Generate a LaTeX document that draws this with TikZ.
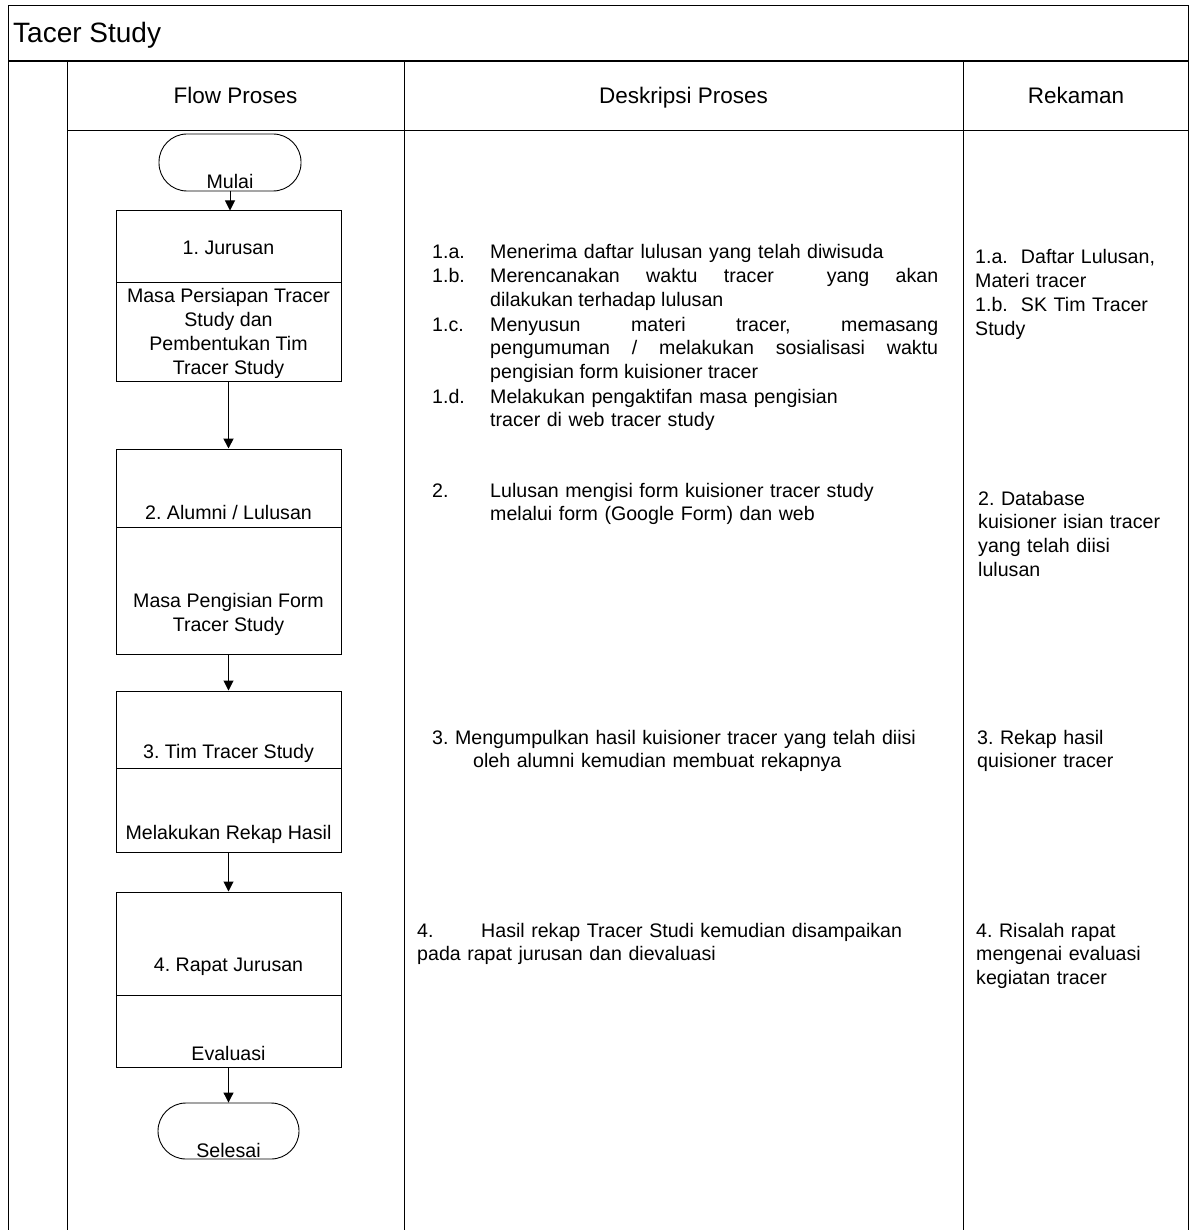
\documentclass[tikz,border=0pt]{standalone}
\usepackage{fontspec}
\setmainfont{Liberation Sans}
\usetikzlibrary{arrows.meta}
\frenchspacing
\begin{document}
\frenchspacing
\begin{tikzpicture}[x=1pt,y=-1pt,
  frame/.style={line width=1pt},
  part/.style={draw, line width=1pt, minimum width=225pt, inner sep=0pt},
  term/.style={draw, line width=0.9pt, rounded corners=28pt, minimum width=142pt, minimum height=57pt, inner sep=0pt},
  flow/.style={-{Triangle[width=10pt,length=10pt]}, line width=1pt},
  lbl/.style={font=\fontsize{19.6}{24}\selectfont, inner sep=0pt, align=center},
  hdr/.style={font=\fontsize{22.5}{26}\selectfont, inner sep=0pt, anchor=base},
  txt/.style={font=\fontsize{19.6}{23.8}\selectfont, inner sep=0pt, anchor=base west, text width=#1, align=left},
  jtxt/.style={font=\fontsize{19.6}{23.8}\selectfont, inner sep=0pt, anchor=base west, text width=#1, align=justify}
]
\useasboundingbox (0,0) rectangle (1189,1230);
% frame
\draw[frame] (8,1230) -- (8,6) -- (1188,6) -- (1188,1230);
\draw[line width=2pt] (8,61) -- (1188,61);
\draw[frame] (67,61) -- (67,1230);
\draw[frame] (404,61) -- (404,1230);
\draw[frame] (963,61) -- (963,1230);
\draw[frame] (67,131) -- (1188,131);
% title and headers
\node[anchor=base west, font=\fontsize{28}{32}\selectfont, inner sep=0pt] (title) at (13,43) {Tacer Study};
\node[hdr] (hflow) at (235.5,104) {Flow Proses};
\node[hdr] (hdesk) at (683.5,104) {Deskripsi Proses};
\node[hdr] (hrek) at (1076,104) {Rekaman};
% terminals
\node[term] (mulai) at (230,162.5) {};
\node[lbl, anchor=base] (mulaiT) at (230,189) {Mulai};
\node[term, minimum width=141pt, minimum height=56pt] (selesai) at (228.5,1131) {};
\node[lbl, anchor=base] (selesaiT) at (228.5,1157) {Selesai};
% boxes
\node[part, minimum height=72pt] (b1a) at (228.5,247) {};
\node[part, minimum height=98pt] (b1b) at (228.5,332) {};
\node[part, minimum height=78pt] (b2a) at (228.5,488) {};
\node[part, minimum height=127pt] (b2b) at (228.5,590.5) {};
\node[part, minimum height=77pt] (b3a) at (228.5,729.5) {};
\node[part, minimum height=84pt] (b3b) at (228.5,810) {};
\node[part, minimum height=103pt] (b4a) at (228.5,943.5) {};
\node[part, minimum height=72pt] (b4b) at (228.5,1031) {};
% box texts
\node[lbl] (b1aT) at (228.5,248) {1. Jurusan};
\node[lbl] (b1bT) at (228.5,333) {Masa Persiapan Tracer\\Study dan\\Pembentukan Tim\\Tracer Study};
\node[lbl] (b2aT) at (228.5,512) {2. Alumni / Lulusan};
\node[lbl] (b2bT) at (228.5,614) {Masa Pengisian Form\\Tracer Study};
\node[lbl] (b3aT) at (228.5,753) {3. Tim Tracer Study};
\node[lbl] (b3bT) at (228.5,834) {Melakukan Rekap Hasil};
\node[lbl] (b4aT) at (228.5,967) {4. Rapat Jurusan};
\node[lbl] (b4bT) at (228.5,1053) {Evaluasi};
% connectors
\draw[flow] (mulai.south) -- (mulai.south |- b1a.north);
\draw[flow, line width=1.8pt] (b1b.south) -- (b2a.north);
\draw[flow] (b2b.south) -- (b3a.north);
\draw[flow] (b3b.south) -- (b4a.north);
\draw[flow] (b4b.south) -- (selesai.north);
% description column
\node[txt=50pt] (d1a) at (432,259) {1.a.};
\node[txt=447pt] (d1aT) at (490,259) {Menerima daftar lulusan yang telah diwisuda};
\node[txt=50pt] (d1b) at (432,283) {1.b.};
\node[jtxt=448pt] (d1bT) at (490,283) {Merencanakan waktu tracer\ \ yang akan\linebreak dilakukan terhadap lulusan};
\node[txt=50pt] (d1c) at (432,331) {1.c.};
\node[jtxt=448pt] (d1cT) at (490,331) {Menyusun materi tracer, memasang\linebreak pengumuman / melakukan sosialisasi waktu\linebreak pengisian form kuisioner tracer};
\node[txt=50pt] (d1d) at (432,403) {1.d.};
\node[txt=447pt] (d1dT) at (490,403) {Melakukan pengaktifan masa pengisian\\tracer di web tracer study};
\node[txt=50pt] (d2) at (432,497) {2.};
\node[txt=447pt] (d2T) at (490,497) {Lulusan mengisi form kuisioner tracer study\\melalui form (Google Form) dan web};
\node[txt=520pt] (d3) at (432,744) {3. Mengumpulkan hasil kuisioner tracer yang telah diisi};
\node[txt=480pt] (d3b) at (473,767) {oleh alumni kemudian membuat rekapnya};
\node[txt=50pt] (d4) at (417,937) {4.};
\node[txt=470pt] (d4T) at (481,937) {Hasil rekap Tracer Studi kemudian disampaikan};
\node[txt=520pt] (d4b) at (417,960) {pada rapat jurusan dan dievaluasi};
% rekaman column
\node[txt=205pt] (r1) at (975,264) {1.a.\ \ Daftar Lulusan,\\Materi tracer\\1.b.\ \ SK Tim Tracer\\Study};
\node[txt=205pt] (r2) at (978,505) {2. Database\\kuisioner isian tracer\\yang telah diisi\\lulusan};
\node[txt=205pt] (r3) at (977,744) {3. Rekap hasil\\quisioner tracer};
\node[txt=205pt] (r4) at (976,937) {4. Risalah rapat\\mengenai evaluasi\\kegiatan tracer};
\end{tikzpicture}
\end{document}
